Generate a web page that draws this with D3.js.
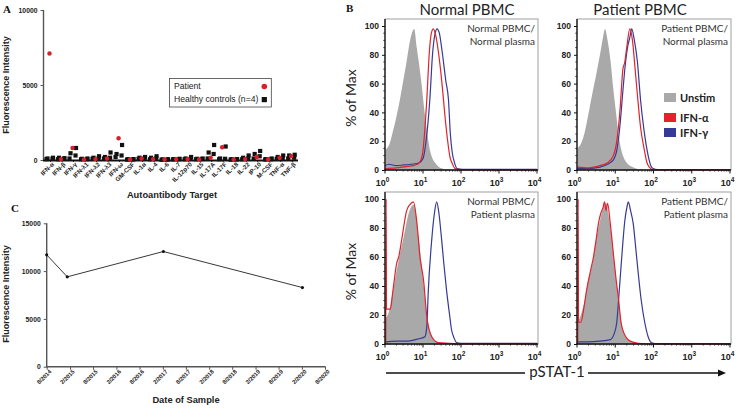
<!DOCTYPE html>
<html><head><meta charset="utf-8">
<script src="https://cdn.jsdelivr.net/npm/d3@7"></script>
<style>body{margin:0;background:#fff}svg{display:block}</style>
</head><body>
<svg id="c" width="741" height="409"></svg>
<script>
// ---------------- DATA ----------------
// Panel A: autoantibody screen
const targets = ["IFN-α","IFN-β","IFN-γ","IFN-λ1","IFN-λ2","IFN-λ3","IFN-ω","GM-CSF","IL-1α","IL-4","IL-6","IL-7","IL-12p70","IL-15","IL-17A","IL-17F","IL-18","IL-22","IP-10","M-CSF","TNF-α","TNF-β"];
const patientMFI = [7100, 60, 800, 40, 60, 100, 1450, 40, 100, 60, 30, 60, 60, 40, 150, 850, 40, 60, 200, 50, 150, 250];
const control1 = [150, 120, 800, 100, 250, 500, 1000, 60, 200, 250, 50, 80, 200, 100, 1000, 900, 60, 300, 600, 100, 300, 350];
const control2 = [100, 150, 450, 80, 150, 200, 400, 50, 150, 150, 40, 60, 100, 80, 500, 100, 50, 150, 400, 60, 200, 300];
const control3 = [80, 80, 300, 60, 100, 150, 300, 40, 100, 100, 30, 50, 80, 60, 400, 80, 40, 100, 250, 50, 100, 150];
const control4 = [60, 50, 100, 50, 80, 100, 200, 30, 80, 50, 20, 40, 50, 50, 100, 50, 30, 50, 100, 40, 80, 100];
const aYTicks = [0, 5000, 10000];

// Panel C: anti-IFN-α over time
const sampleDates = ["2014-08-01", "2015-01-10", "2017-02-05", "2020-02-05"];
const sampleMFI = [11700, 9400, 12050, 8280];
const dateTickLabels = ["8/2014","2/2015","8/2015","2/2016","8/2016","2/2017","8/2017","2/2018","8/2018","2/2019","8/2019","2/2020","8/2020"];
const cYTicks = [0, 5000, 10000, 15000];

// Panel B: pSTAT-1 histograms, [log10(pSTAT-1), % of Max]
const unstimNN = [[0,14],[0.05,15],[0.13,19],[0.2,26],[0.3,37],[0.4,50],[0.48,62],[0.56,74],[0.66,90],[0.72,96],[0.77,98],[0.83,86],[0.9,73],[0.96,60],[1.03,43],[1.1,28],[1.18,14],[1.25,8],[1.32,5],[1.45,1.5],[1.6,0.5],[1.8,0],[4,0]];
const ifnaNN = [[0,1],[0.3,1.5],[0.6,2.5],[0.8,3.5],[0.9,5],[0.98,10],[1.04,25],[1.1,49],[1.17,83],[1.22,95],[1.27,98],[1.33,94],[1.4,83],[1.5,60],[1.58,37],[1.65,20],[1.71,9],[1.78,4],[1.84,1],[2.0,0],[4,0]];
const ifngNN = [[0,3],[0.1,4],[0.3,3],[0.5,3.5],[0.7,4],[0.9,5],[1.0,8],[1.08,20],[1.18,49],[1.25,80],[1.32,95],[1.37,98],[1.43,95],[1.5,83],[1.6,62],[1.67,49],[1.72,25],[1.77,12],[1.83,5],[1.9,1],[2.05,0.5],[4,0.5]];

const unstimPN = [[0,15],[0.1,18],[0.2,26],[0.3,39],[0.4,53],[0.5,66],[0.6,80],[0.68,92],[0.73,98],[0.8,90],[0.88,75],[0.95,56],[1.02,40],[1.1,22],[1.2,10],[1.3,5],[1.45,2],[1.6,0.5],[1.8,0],[4,0]];
const ifnaPN = [[0,2],[0.3,1.5],[0.6,3],[0.8,5],[0.95,10],[1.05,22],[1.12,40],[1.2,70],[1.25,75],[1.3,85],[1.38,98],[1.45,90],[1.52,70],[1.59,49],[1.66,30],[1.76,14],[1.83,5],[1.89,2],[2.0,0],[4,0]];
const ifngPN = [[0,1],[0.3,1],[0.6,2],[0.8,4],[0.95,7],[1.05,15],[1.12,30],[1.2,55],[1.25,70],[1.32,85],[1.38,92],[1.43,98],[1.5,90],[1.58,75],[1.66,49],[1.75,28],[1.86,10],[1.93,3],[1.99,1],[2.1,0.3],[4,0.3]];

const unstimNP = [[0,17],[0.1,22],[0.2,35],[0.3,50],[0.4,63],[0.5,75],[0.6,88],[0.7,95],[0.75,96],[0.82,88],[0.9,70],[0.96,55],[1.02,40],[1.1,20],[1.2,8],[1.3,3],[1.45,1],[1.6,0],[4,0]];
const ifnaNP = [[0.02,0],[0.03,100],[0.04,24],[0.14,24],[0.2,35],[0.31,56],[0.36,60],[0.44,72],[0.57,92],[0.65,96],[0.75,98],[0.82,88],[0.88,72],[0.92,60],[0.96,53],[1.01,45],[1.1,19],[1.23,5],[1.4,1],[1.7,0.5],[2,0],[4,0]];
const ifngNP = [[0,1.5],[0.3,2],[0.6,2],[0.8,3],[0.95,4],[1.05,5],[1.1,12],[1.14,37],[1.23,72],[1.3,90],[1.36,98],[1.42,90],[1.49,72],[1.55,55],[1.62,37],[1.7,20],[1.75,10],[1.82,4],[1.88,1],[2.0,0.5],[4,0.5]];

const unstimPP = [[0,14],[0.1,20],[0.2,30],[0.3,45],[0.4,55],[0.5,72],[0.6,85],[0.7,95],[0.76,97],[0.83,88],[0.9,75],[0.97,57],[1.05,38],[1.12,22],[1.2,10],[1.3,4],[1.45,1],[1.6,0],[4,0]];
const ifnaPP = [[0.02,0],[0.03,100],[0.04,15],[0.1,15],[0.18,25],[0.25,37],[0.35,50],[0.43,60],[0.5,72],[0.56,83],[0.62,90],[0.68,94],[0.72,98],[0.76,92],[0.8,97],[0.87,83],[0.96,60],[1.02,45],[1.09,30],[1.15,15],[1.22,8],[1.3,4],[1.39,2],[1.6,0.5],[2,0],[4,0]];
const ifngPP = [[0,1.5],[0.3,1.5],[0.6,2],[0.87,3],[0.97,7],[1.04,15],[1.1,35],[1.17,60],[1.25,85],[1.31,95],[1.34,98],[1.4,92],[1.47,83],[1.54,65],[1.6,49],[1.68,30],[1.77,15],[1.86,5],[1.94,1],[2.05,0.3],[4,0.3]];
const pctTicks = [0, 20, 40, 60, 80, 100];
const decadeTicks = [0, 1, 2, 3, 4];
const legendB = ["Unstim", "IFN-α", "IFN-γ"];

// ---------------- DRAWING ----------------
const svg = d3.select("#c");
const SANS = "'Liberation Sans', Arial, sans-serif";
const CAL = "Lato, 'Open Sans', sans-serif";
const SERIF = "'Liberation Serif', 'Times New Roman', serif";
const RED = "#e1232b", BLUE = "#343a96", GRAY = "#a9a9a9";

function styleAxis(g, fs, col) {
  g.selectAll(".domain").remove();
  g.selectAll(".tick line").attr("stroke", col || "#333").attr("stroke-width", 1);
  g.selectAll("text").attr("font-family", SANS).attr("font-weight", "bold").attr("font-size", fs).attr("fill", "#222");
}

// Panel letters
[["A", 3, 13], ["B", 346, 12], ["C", 11, 212]].forEach(([t, x, y]) =>
  svg.append("text").attr("x", x).attr("y", y).text(t)
    .attr("font-family", SERIF).attr("font-weight", "bold").attr("font-size", 11).attr("fill", "#111"));

// ===== Panel A =====
{
  const xA = d3.scalePoint().domain(targets).range([50, 291.7]);
  const yA = d3.scaleLinear().domain([0, 10000]).range([160, 10]);
  const g = svg.append("g");
  const yg = g.append("g").attr("transform", "translate(43.5,0)")
    .call(d3.axisLeft(yA).tickValues(aYTicks).tickSize(3).tickFormat(d3.format("d")));
  styleAxis(yg, 6.8, "#555");
  g.append("line").attr("x1", 43.5).attr("x2", 43.5).attr("y1", 10).attr("y2", 160.5).attr("stroke", "#555").attr("stroke-width", 1.4);
  const xg = g.append("g").attr("transform", "translate(0,160)")
    .call(d3.axisBottom(xA).tickSize(2));
  styleAxis(xg, 6.2, "#222");
  xg.selectAll("text").attr("transform", "rotate(-45)").style("text-anchor", "end").attr("dx", "-0.1em").attr("dy", "0.35em").attr("y", 4);
  g.append("line").attr("x1", 43).attr("x2", 298).attr("y1", 160.5).attr("y2", 160.5).attr("stroke", "#111").attr("stroke-width", 1.8);

  const controls = [control1, control2, control3, control4];
  const offs = [3, -2.5, 2.5, -3.5];
  controls.forEach((arr, k) => {
    g.selectAll(null).data(arr).enter().append("rect")
      .attr("x", (d, i) => xA(targets[i]) + offs[k] - 2.1)
      .attr("y", d => yA(d) - 2.1)
      .attr("width", 4.2).attr("height", 4.2).attr("fill", "#111");
  });
  g.selectAll(null).data(patientMFI).enter().append("circle")
    .attr("cx", (d, i) => xA(targets[i]) - 0.5)
    .attr("cy", d => yA(d)).attr("r", 2.2).attr("fill", "#d9202a");

  g.append("text").attr("transform", "translate(9,85) rotate(-90)").attr("text-anchor", "middle")
    .attr("font-family", SANS).attr("font-weight", "bold").attr("font-size", 9).attr("fill", "#222").text("Fluorescence Intensity");
  g.append("text").attr("x", 172).attr("y", 198).attr("text-anchor", "middle")
    .attr("font-family", SANS).attr("font-weight", "bold").attr("font-size", 9.3).attr("fill", "#222").text("Autoantibody Target");

  // legend
  const lg = g.append("g");
  const t1 = lg.append("text").attr("x", 174).attr("y", 89).text("Patient");
  const t2 = lg.append("text").attr("x", 174).attr("y", 102).text("Healthy controls (n=4)");
  lg.selectAll("text").attr("font-family", SANS).attr("font-size", 8.6).attr("fill", "#222");
  const w = t2.node().getComputedTextLength();
  const mx = 174 + w + 6;
  lg.insert("rect", "text").attr("x", 169.5).attr("y", 78.5).attr("width", mx + 7 - 169.5).attr("height", 28.5)
    .attr("fill", "#fff").attr("stroke", "#444").attr("stroke-width", 0.8);
  lg.append("circle").attr("cx", mx).attr("cy", 86.5).attr("r", 2.8).attr("fill", "#d9202a");
  lg.append("rect").attr("x", mx - 2.6).attr("y", 97).attr("width", 5.2).attr("height", 5.2).attr("fill", "#111");
}

// ===== Panel C =====
{
  const parse = d3.timeParse("%Y-%m-%d");
  const parseTick = d3.timeParse("%m/%Y");
  const tickDates = dateTickLabels.map(parseTick);
  const xC = d3.scaleTime().domain([tickDates[0], tickDates[tickDates.length - 1]]).range([46.7, 325]);
  const yC = d3.scaleLinear().domain([0, 15000]).range([366.7, 223.3]);
  const g = svg.append("g");
  const yg = g.append("g").attr("transform", "translate(46.7,0)")
    .call(d3.axisLeft(yC).tickValues(cYTicks).tickSize(3).tickFormat(d3.format("d")));
  styleAxis(yg, 6.8, "#555");
  g.append("line").attr("x1", 46.7).attr("x2", 46.7).attr("y1", 223.3).attr("y2", 367.2).attr("stroke", "#555").attr("stroke-width", 1.4);
  const xg = g.append("g").attr("transform", "translate(0,366.7)")
    .call(d3.axisBottom(xC).tickValues(tickDates).tickSize(3).tickFormat(d3.timeFormat("%-m/%Y")));
  styleAxis(xg, 5.8, "#555");
  xg.selectAll("text").attr("transform", "rotate(-45)").style("text-anchor", "end").attr("dx", "-0.1em").attr("dy", "0.35em").attr("y", 5);
  g.append("line").attr("x1", 46.2).attr("x2", 325.5).attr("y1", 366.7).attr("y2", 366.7).attr("stroke", "#555").attr("stroke-width", 1.4);

  const pts = sampleDates.map((d, i) => [parse(d), sampleMFI[i]]);
  g.append("path").datum(pts).attr("fill", "none").attr("stroke", "#222").attr("stroke-width", 0.9)
    .attr("d", d3.line().x(d => xC(d[0])).y(d => yC(d[1])));
  g.selectAll(null).data(pts).enter().append("circle").attr("cx", d => xC(d[0])).attr("cy", d => yC(d[1])).attr("r", 1.6).attr("fill", "#111");

  g.append("text").attr("transform", "translate(9,294) rotate(-90)").attr("text-anchor", "middle")
    .attr("font-family", SANS).attr("font-weight", "bold").attr("font-size", 9).attr("fill", "#222").text("Fluorescence Intensity");
  g.append("text").attr("x", 186).attr("y", 403).attr("text-anchor", "middle")
    .attr("font-family", SANS).attr("font-weight", "bold").attr("font-size", 9.3).attr("fill", "#222").text("Date of Sample");
}

// ===== Panel B =====
function histPanel(o) {
  const x = d3.scaleLog().domain([1, 1e4]).range([o.x0, o.x1]);
  const y = d3.scaleLinear().domain([0, 100]).range([o.y0, o.y100]);
  const g = svg.append("g");
  g.append("rect").attr("x", o.x0).attr("y", o.top).attr("width", o.right - o.x0).attr("height", o.y0 - o.top)
    .attr("fill", "none").attr("stroke", "#a0a0a0").attr("stroke-width", 1);
  const X = d => x(Math.pow(10, d[0]));
  g.append("path").datum(o.unstim).attr("fill", GRAY)
    .attr("d", d3.area().x(X).y0(y(0)).y1(d => y(d[1])).curve(d3.curveMonotoneX));
  const ln = d3.line().x(X).y(d => y(d[1])).curve(d3.curveMonotoneX);
  g.append("path").datum(o.ifng).attr("fill", "none").attr("stroke", BLUE).attr("stroke-width", 1.2).attr("d", ln);
  g.append("path").datum(o.ifna).attr("fill", "none").attr("stroke", RED).attr("stroke-width", 1.2).attr("d", ln);

  // y axis
  const yg = g.append("g").attr("transform", `translate(${o.x0},0)`)
    .call(d3.axisLeft(y).tickValues(pctTicks).tickSize(3).tickSizeOuter(0));
  styleAxis(yg, 8.5, "#111");
  yg.selectAll("text").attr("x", -6);
  const minor = d3.range(0, 101, 5).filter(v => v % 20);
  g.selectAll(null).data(minor).enter().append("line")
    .attr("x1", o.x0 - 1.8).attr("x2", o.x0).attr("y1", d => y(d)).attr("y2", d => y(d)).attr("stroke", "#111").attr("stroke-width", 0.7);
  g.append("line").attr("x1", o.x0).attr("x2", o.x0).attr("y1", o.top).attr("y2", o.y0 + 0.5).attr("stroke", "#111").attr("stroke-width", 1.3);

  // x axis
  g.append("line").attr("x1", o.x0 - 0.5).attr("x2", o.right).attr("y1", o.y0).attr("y2", o.y0).attr("stroke", "#111").attr("stroke-width", 1.3);
  const minorX = [];
  for (let e = 0; e < 4; e++) for (let m = 2; m < 10; m++) minorX.push(m * Math.pow(10, e));
  g.selectAll(null).data(minorX).enter().append("line")
    .attr("x1", d => x(d)).attr("x2", d => x(d)).attr("y1", o.y0).attr("y2", o.y0 + 1.8).attr("stroke", "#111").attr("stroke-width", 0.6);
  g.selectAll(null).data(decadeTicks).enter().append("line")
    .attr("x1", d => x(Math.pow(10, d))).attr("x2", d => x(Math.pow(10, d))).attr("y1", o.y0).attr("y2", o.y0 + 3.5).attr("stroke", "#111").attr("stroke-width", 1);
  const tl = g.selectAll(null).data(decadeTicks).enter().append("text")
    .attr("x", d => x(Math.pow(10, d)) - 2.5).attr("y", o.y0 + 16).attr("text-anchor", "middle")
    .attr("font-family", SANS).attr("font-weight", "bold").attr("font-size", 9).attr("fill", "#222");
  tl.append("tspan").text("10");
  tl.append("tspan").attr("dy", -4.5).attr("font-size", 6.5).text(d => d);

  // annotation
  const an = g.append("text").attr("text-anchor", "end").attr("font-family", CAL).attr("font-size", 10).attr("fill", "#333");
  an.append("tspan").attr("x", o.right - 3).attr("y", o.top + 13).text(o.label[0]);
  an.append("tspan").attr("x", o.right - 3).attr("y", o.top + 26).text(o.label[1]);

  if (o.yTitle) {
    g.append("text").attr("transform", `translate(356,${(o.y0 + o.y100) / 2}) rotate(-90)`).attr("text-anchor", "middle")
      .attr("font-family", CAL).attr("font-size", 14).attr("fill", "#222").text("% of Max");
  }
  return g;
}

histPanel({x0: 385, x1: 537, right: 538, top: 19, y0: 170, y100: 26, unstim: unstimNN, ifna: ifnaNN, ifng: ifngNN, label: ["Normal PBMC/", "Normal plasma"], yTitle: true});
histPanel({x0: 577, x1: 730, right: 731, top: 19, y0: 170, y100: 26, unstim: unstimPN, ifna: ifnaPN, ifng: ifngPN, label: ["Patient PBMC/", "Normal plasma"]});
histPanel({x0: 385, x1: 537, right: 538, top: 192, y0: 344, y100: 199, unstim: unstimNP, ifna: ifnaNP, ifng: ifngNP, label: ["Normal PBMC/", "Patient plasma"], yTitle: true});
histPanel({x0: 577, x1: 730, right: 731, top: 192, y0: 344, y100: 199, unstim: unstimPP, ifna: ifnaPP, ifng: ifngPP, label: ["Patient PBMC/", "Patient plasma"]});

// column titles
[["Normal PBMC", 467], ["Patient PBMC", 640]].forEach(([t, x]) =>
  svg.append("text").attr("x", x).attr("y", 15).attr("text-anchor", "middle")
    .attr("font-family", CAL).attr("font-size", 15).attr("fill", "#222").text(t));

// legend B
const legColors = [GRAY, RED, BLUE];
legendB.forEach((t, i) => {
  const yy = [93, 113, 128][i];
  svg.append("rect").attr("x", 664).attr("y", yy).attr("width", 12).attr("height", 9).attr("fill", legColors[i]);
  svg.append("text").attr("x", 680).attr("y", yy + 8.5).attr("font-family", CAL).attr("font-weight", "bold")
    .attr("font-size", 11).attr("fill", "#222").text(t);
});

// pSTAT-1 axis label with arrow
svg.append("line").attr("x1", 386).attr("x2", 525).attr("y1", 373).attr("y2", 373).attr("stroke", "#111").attr("stroke-width", 1.6);
svg.append("text").attr("x", 557).attr("y", 377).attr("text-anchor", "middle").attr("font-family", CAL)
  .attr("font-size", 15).attr("fill", "#222").text("pSTAT-1");
svg.append("line").attr("x1", 588).attr("x2", 720).attr("y1", 373).attr("y2", 373).attr("stroke", "#111").attr("stroke-width", 1.6);
svg.append("path").attr("d", "M726,373 L718,369.5 L718,376.5 Z").attr("fill", "#111");
</script>
</body></html>
